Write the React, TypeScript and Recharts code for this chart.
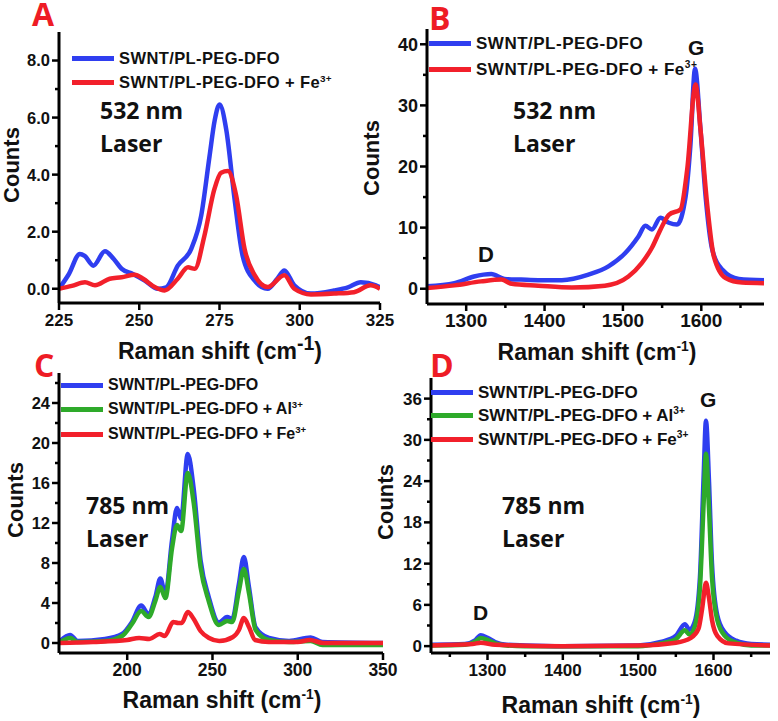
import React from 'react'
import { LineChart, Line, XAxis, YAxis } from 'recharts'

// ── Panel A (532 nm, RBM region) ───────────────────────────────────────────
const aBlueShift = [225, 228, 231.5, 233, 235.7, 239.3, 242, 244.5, 248, 251.7, 255.8, 258.4, 262, 266.2, 269.3, 271.9, 273.5, 275, 277.1, 279.7, 282.2, 285.9, 290, 293, 295.2, 298.3, 303.5, 310.7, 315, 319, 323.7, 325]
const aBlueCounts = [0, 0.5, 1.22, 1.15, 0.81, 1.31, 1.05, 0.7, 0.52, 0.29, 0, 0.05, 0.81, 1.4, 2.56, 4.65, 5.9, 6.46, 5.58, 3.14, 1.16, 0.29, 0, 0.35, 0.64, 0.12, -0.17, -0.06, 0.05, 0.23, 0.12, 0.05]
const aRedShift = [225, 229, 233.1, 236.2, 240.8, 244.5, 248.6, 251.2, 254.8, 257.9, 262, 265.2, 267.3, 270.3, 273.4, 275.5, 277.6, 280.2, 282.8, 286, 290, 295.2, 298.3, 303.5, 310.7, 316.9, 322.1, 325]
const aRedCounts = [0, 0.1, 0.23, 0.12, 0.35, 0.4, 0.49, 0.35, 0.06, -0.06, 0.35, 0.75, 0.7, 1.86, 3.49, 4.07, 4.13, 3.26, 1.4, 0.47, 0.06, 0.47, 0, -0.2, -0.17, -0.12, 0.12, 0]

// ── Panel B (532 nm, D/G region) ───────────────────────────────────────────
const bBlueShift = [1250, 1285, 1310, 1332, 1349, 1370, 1392, 1422, 1456, 1482, 1503, 1520, 1528.6, 1537, 1547.8, 1558.6, 1569, 1580, 1586, 1592, 1599, 1605.5, 1614, 1627, 1648, 1680]
const bBlueCounts = [0.4, 0.9, 2.0, 2.4, 1.6, 1.5, 1.4, 1.4, 2.3, 3.7, 5.85, 8.6, 10.3, 9.7, 11.6, 10.8, 10.5, 15.1, 23.3, 36, 26, 15.1, 6.4, 3.1, 1.6, 1.4]
const bRedShift = [1250, 1285, 1319, 1345, 1358, 1392, 1435, 1477, 1507, 1524, 1537, 1548, 1558.6, 1573.5, 1582, 1592.7, 1599, 1607.7, 1616, 1631, 1652, 1680]
const bRedCounts = [0.1, 0.55, 1.2, 1.5, 0.8, 0.5, 0.2, 0.5, 2.0, 4.2, 6.7, 9.7, 12.1, 13.0, 19.5, 33.4, 26, 13.5, 5.3, 1.75, 1.0, 0.9]

// ── Panel C (785 nm, RBM region) ───────────────────────────────────────────
const cShift = [160, 166.5, 171, 187, 197, 202.8, 208.2, 212.5, 216.5, 219.4, 222.4, 226.3, 229.2, 231.6, 235.5, 239, 243, 247.8, 253.7, 258.6, 261.6, 265.5, 268.4, 271.4, 275.3, 283.1, 294.9, 307.6, 314.5, 350]
const cBlueCounts = [0.1, 0.8, 0.2, 0.4, 0.9, 2.1, 3.75, 2.9, 4.6, 6.45, 4.9, 10.3, 13.5, 12.4, 18.9, 15.4, 8.3, 4.6, 2.05, 2.6, 2.4, 5.9, 8.6, 5.6, 1.55, 0.5, 0.2, 0.55, 0.1, 0]
const cGreenCounts = [0, 0.5, 0.1, 0.2, 0.7, 1.9, 3.2, 2.6, 4.2, 5.6, 4.5, 9.5, 11.8, 11.2, 17.0, 14.0, 7.6, 4.2, 1.8, 2.2, 2.1, 5.2, 7.4, 5.0, 1.3, 0.3, 0.1, 0.2, -0.2, -0.2]
const cRedShift = [160, 180, 200, 207, 213, 219, 222, 227, 230, 232, 235.5, 239, 243, 248, 254, 262, 265.5, 268.4, 271.4, 275, 283, 300, 307, 315, 350]
const cRedCounts = [0, 0.1, 0.3, 0.5, 0.4, 0.9, 0.7, 2.1, 2.0, 2.0, 3.1, 2.4, 1.2, 0.5, 0.2, 0.6, 1.3, 2.5, 1.6, 0.3, 0.1, 0.1, 0.3, 0, 0]

// ── Panel D (785 nm, D/G region) ───────────────────────────────────────────
const dShift = [1225, 1270, 1283, 1291, 1300, 1310, 1325, 1350, 1400, 1500, 1530, 1550, 1562, 1568, 1575, 1582, 1587, 1590, 1594, 1598, 1605, 1615, 1630, 1650, 1675]
const dBlueCounts = [0.2, 0.3, 0.8, 1.6, 1.2, 0.6, 0.2, 0.1, 0, 0.1, 0.6, 1.5, 3.2, 2.4, 3.5, 10, 25, 32.8, 24, 12, 4.5, 2.0, 0.8, 0.3, 0.2]
const dGreenCounts = [0.1, 0.2, 0.6, 1.2, 0.9, 0.4, 0.1, 0, 0, 0, 0.4, 1.0, 2.3, 1.7, 2.8, 8.5, 21, 28, 20, 10, 3.8, 1.5, 0.5, 0.1, 0.1]
const dRedShift = [1225, 1280, 1291, 1310, 1400, 1500, 1550, 1570, 1580, 1585, 1590, 1594, 1598, 1605, 1620, 1675]
const dRedCounts = [0.1, 0.3, 0.5, 0.2, 0, 0.1, 0.5, 1.2, 2.5, 5.5, 9.2, 7.0, 3.8, 1.5, 0.4, 0.1]

// ── Ticks ──────────────────────────────────────────────────────────────────
const aXMajor = [225, 250, 275, 300, 325]
const aYMajor = [0, 2, 4, 6, 8]
const aYMinor = [1, 3, 5, 7]
const bXMajor = [1300, 1400, 1500, 1600]
const bXMinor = [1350, 1450, 1550, 1650]
const bYMajor = [0, 10, 20, 30, 40]
const bYMinor = [5, 15, 25, 35]
const cXMajor = [200, 250, 300, 350]
const cYMajor = [0, 4, 8, 12, 16, 20, 24]
const cYMinor = [2, 6, 10, 14, 18, 22, 26]
const dXMajor = [1300, 1400, 1500, 1600]
const dXMinor = [1250, 1350, 1450, 1550, 1650]
const dYMajor = [0, 6, 12, 18, 24, 30, 36]
const dYMinor = [3, 9, 15, 21, 27, 33]

const BLUE = '#2f3ef0'
const RED = '#f2202b'
const GREEN = '#2eaa2a'
const INK = '#111'
const ARIAL = '"Liberation Sans", Arial, Helvetica, sans-serif'
const CALI = '"Open Sans", "Noto Sans", sans-serif'

const pts = (xs: number[], ys: number[]) => xs.map((x, i) => ({ x, y: ys[i] }))

function xTick(majors: number[], fs: number) {
  return (p: any) => {
    const major = majors.includes(p.payload.value)
    return (
      <g>
        <line x1={p.x} x2={p.x} y1={p.y} y2={p.y + (major ? 7 : 4)} stroke="#000" strokeWidth={2.5} />
        {major && (
          <text x={p.x} y={p.y + 23} textAnchor="middle" fontFamily={ARIAL} fontWeight="bold" fontSize={fs} fill={INK}>
            {p.payload.value}
          </text>
        )}
      </g>
    )
  }
}

function yTick(majors: number[], fs: number, fmt: (v: number) => string) {
  return (p: any) => {
    const major = majors.includes(p.payload.value)
    return (
      <g>
        <line x1={p.x - (major ? 7 : 4)} x2={p.x} y1={p.y} y2={p.y} stroke="#000" strokeWidth={2.5} />
        {major && (
          <text x={p.x - 9} y={p.y + fs * 0.36} textAnchor="end" fontFamily={ARIAL} fontWeight="bold" fontSize={fs} fill={INK}>
            {fmt(p.payload.value)}
          </text>
        )}
      </g>
    )
  }
}

interface Series { data: { x: number; y: number }[]; color: string }

interface PanelProps {
  left: number; top: number; width: number; height: number
  margin: { top: number; right: number; left: number; bottom: number }
  yWidth: number; xHeight: number
  xDomain: [number, number]; yDomain: [number, number]
  xTicks: number[]; xMajors: number[]; xFs: number
  yTicks: number[]; yMajors: number[]; yFs: number
  yFmt: (v: number) => string
  series: Series[]
}

function Panel(p: PanelProps) {
  return (
    <div style={{ position: 'absolute', left: p.left, top: p.top }}>
      <LineChart width={p.width} height={p.height} margin={p.margin}>
        <XAxis
          type="number" dataKey="x" domain={p.xDomain} allowDataOverflow
          ticks={p.xTicks} interval={0} height={p.xHeight}
          tickSize={0} tickMargin={0} tickLine={false}
          axisLine={{ stroke: '#000', strokeWidth: 3 }}
          tick={xTick(p.xMajors, p.xFs)}
        />
        <YAxis
          type="number" domain={p.yDomain} allowDataOverflow
          ticks={p.yTicks} interval={0} width={p.yWidth}
          tickSize={0} tickMargin={0} tickLine={false}
          axisLine={{ stroke: '#000', strokeWidth: 3 }}
          tick={yTick(p.yMajors, p.yFs, p.yFmt)}
        />
        {p.series.map((s, i) => (
          <Line
            key={i} data={s.data} dataKey="y" type="monotone" stroke={s.color}
            strokeWidth={4.5} dot={false} isAnimationActive={false}
          />
        ))}
      </LineChart>
    </div>
  )
}

// ── small text helpers ─────────────────────────────────────────────────────
function Txt({ x, y, fs, children, color = INK, family = ARIAL, weight = 700, ls = 0 }: any) {
  return (
    <div style={{
      position: 'absolute', left: x, top: y, fontSize: fs, color, fontFamily: family,
      fontWeight: weight, lineHeight: 1, whiteSpace: 'nowrap', letterSpacing: ls,
    }}>{children}</div>
  )
}

function Letter({ x, y, children }: any) {
  return <Txt x={x} y={y} fs={32} color="#ee1c25" family={CALI} weight={700}>{children}</Txt>
}

function Laser({ x, y, nm }: any) {
  return (
    <div style={{ position: 'absolute', left: x, top: y, fontSize: 23, lineHeight: '33px', fontFamily: CALI, fontWeight: 700, color: INK, whiteSpace: 'nowrap' }}>
      <div>{nm}</div>
      <div>Laser</div>
    </div>
  )
}

function Counts({ cx, cy }: any) {
  return (
    <div style={{
      position: 'absolute', left: cx - 50, top: cy - 12, width: 100, height: 24, textAlign: 'center',
      fontFamily: ARIAL, fontWeight: 700, fontSize: 22, lineHeight: '24px', color: INK, transform: 'rotate(-90deg)',
    }}>Counts</div>
  )
}

function Raman({ cx, cy, fs = 23, supFs = '0.6em' }: any) {
  return (
    <div style={{
      position: 'absolute', left: cx - 150, top: cy - 14, width: 300, textAlign: 'center',
      fontFamily: ARIAL, fontWeight: 700, fontSize: fs, lineHeight: '28px', color: INK, whiteSpace: 'nowrap',
    }}>
      Raman shift (cm<sup style={{ fontSize: supFs, verticalAlign: 'super', lineHeight: 0 }}>-1</sup>)
    </div>
  )
}

function LegendRow({ x, y, color, fs, ls = 0, children }: any) {
  return (
    <div style={{ position: 'absolute', left: x, top: y - 12, height: 24, display: 'flex', alignItems: 'center' }}>
      <div style={{ width: 42, height: 5, background: color, marginRight: 5 }} />
      <span style={{ fontFamily: ARIAL, fontWeight: 700, fontSize: fs, letterSpacing: ls, color: INK, whiteSpace: 'nowrap', lineHeight: 1 }}>
        {children}
      </span>
    </div>
  )
}

const sup = (s: string) => <sup style={{ fontSize: '0.6em', verticalAlign: 'super', lineHeight: 0 }}>{s}</sup>

export default function App() {
  const fmt1 = (v: number) => v.toFixed(1)
  const fmt0 = (v: number) => String(v)
  return (
    <div style={{ position: 'absolute', left: 0, top: 0, width: 778, height: 721, background: '#fff', overflow: 'hidden' }}>
      <Panel
        left={0} top={0} width={400} height={360}
        margin={{ top: 32, right: 20, left: 0, bottom: 0 }} yWidth={59} xHeight={57}
        xDomain={[225, 325]} yDomain={[-0.5, 9]}
        xTicks={aXMajor} xMajors={aXMajor} xFs={17}
        yTicks={[...aYMajor, ...aYMinor]} yMajors={aYMajor} yFs={16.5} yFmt={fmt1}
        series={[{ data: pts(aBlueShift, aBlueCounts), color: BLUE }, { data: pts(aRedShift, aRedCounts), color: RED }]}
      />
      <Panel
        left={390} top={0} width={388} height={360}
        margin={{ top: 29, right: 14, left: 0, bottom: 0 }} yWidth={37} xHeight={56}
        xDomain={[1250, 1680]} yDomain={[-2.5, 42.5]}
        xTicks={[...bXMajor, ...bXMinor]} xMajors={bXMajor} xFs={19}
        yTicks={[...bYMajor, ...bYMinor]} yMajors={bYMajor} yFs={18} yFmt={fmt0}
        series={[{ data: pts(bBlueShift, bBlueCounts), color: BLUE }, { data: pts(bRedShift, bRedCounts), color: RED }]}
      />
      <Panel
        left={0} top={360} width={400} height={361}
        margin={{ top: 13, right: 17, left: 0, bottom: 0 }} yWidth={59} xHeight={68}
        xDomain={[160, 350]} yDomain={[-1, 27]}
        xTicks={cXMajor} xMajors={cXMajor} xFs={17.5}
        yTicks={[...cYMajor, ...cYMinor]} yMajors={cYMajor} yFs={16.5} yFmt={fmt0}
        series={[
          { data: pts(cShift, cBlueCounts), color: BLUE },
          { data: pts(cShift, cGreenCounts), color: GREEN },
          { data: pts(cRedShift, cRedCounts), color: RED },
        ]}
      />
      <Panel
        left={390} top={360} width={388} height={361}
        margin={{ top: 18, right: 8, left: 0, bottom: 0 }} yWidth={41} xHeight={68}
        xDomain={[1225, 1675]} yDomain={[-1, 39]}
        xTicks={[...dXMajor, ...dXMinor]} xMajors={dXMajor} xFs={17}
        yTicks={[...dYMajor, ...dYMinor]} yMajors={dYMajor} yFs={17} yFmt={fmt0}
        series={[
          { data: pts(dShift, dBlueCounts), color: BLUE },
          { data: pts(dShift, dGreenCounts), color: GREEN },
          { data: pts(dRedShift, dRedCounts), color: RED },
        ]}
      />

      {/* panel letters */}
      <Letter x={32} y={-2}>A</Letter>
      <Letter x={429} y={2}>B</Letter>
      <Letter x={34} y={349}>C</Letter>
      <Letter x={430} y={349}>D</Letter>

      {/* laser annotations */}
      <Laser x={100} y={94} nm="532 nm" />
      <Laser x={513} y={94} nm="532 nm" />
      <Laser x={86} y={489} nm="785 nm" />
      <Laser x={502} y={489} nm="785 nm" />

      {/* peak labels */}
      <Txt x={688} y={37} fs={21}>G</Txt>
      <Txt x={478} y={244} fs={22}>D</Txt>
      <Txt x={700} y={389} fs={21}>G</Txt>
      <Txt x={473} y={602} fs={21}>D</Txt>

      {/* axis titles */}
      <Counts cx={12} cy={165} />
      <Counts cx={372} cy={158} />
      <Counts cx={16} cy={500} />
      <Counts cx={386} cy={502} />
      <Raman cx={220} cy={351} supFs="0.85em" />
      <Raman cx={597} cy={352} />
      <Raman cx={222} cy={700} />
      <Raman cx={601} cy={705} />

      {/* legends */}
      <LegendRow x={72} y={58} color={BLUE} fs={16.5} ls={0.4}>SWNT/PL-PEG-DFO</LegendRow>
      <LegendRow x={72} y={82} color={RED} fs={16.5} ls={0.4}>SWNT/PL-PEG-DFO + Fe{sup('3+')}</LegendRow>
      <LegendRow x={429} y={43} color={BLUE} fs={17} ls={0.5}>SWNT/PL-PEG-DFO</LegendRow>
      <LegendRow x={429} y={69} color={RED} fs={17} ls={0.5}>SWNT/PL-PEG-DFO + Fe{sup('3+')}</LegendRow>
      <LegendRow x={61} y={385} color={BLUE} fs={16}>SWNT/PL-PEG-DFO</LegendRow>
      <LegendRow x={61} y={409} color={GREEN} fs={16}>SWNT/PL-PEG-DFO + Al{sup('3+')}</LegendRow>
      <LegendRow x={61} y={434} color={RED} fs={16}>SWNT/PL-PEG-DFO + Fe{sup('3+')}</LegendRow>
      <LegendRow x={431} y={392} color={BLUE} fs={17}>SWNT/PL-PEG-DFO</LegendRow>
      <LegendRow x={431} y={415} color={GREEN} fs={17}>SWNT/PL-PEG-DFO + Al{sup('3+')}</LegendRow>
      <LegendRow x={431} y={439} color={RED} fs={17}>SWNT/PL-PEG-DFO + Fe{sup('3+')}</LegendRow>
    </div>
  )
}
